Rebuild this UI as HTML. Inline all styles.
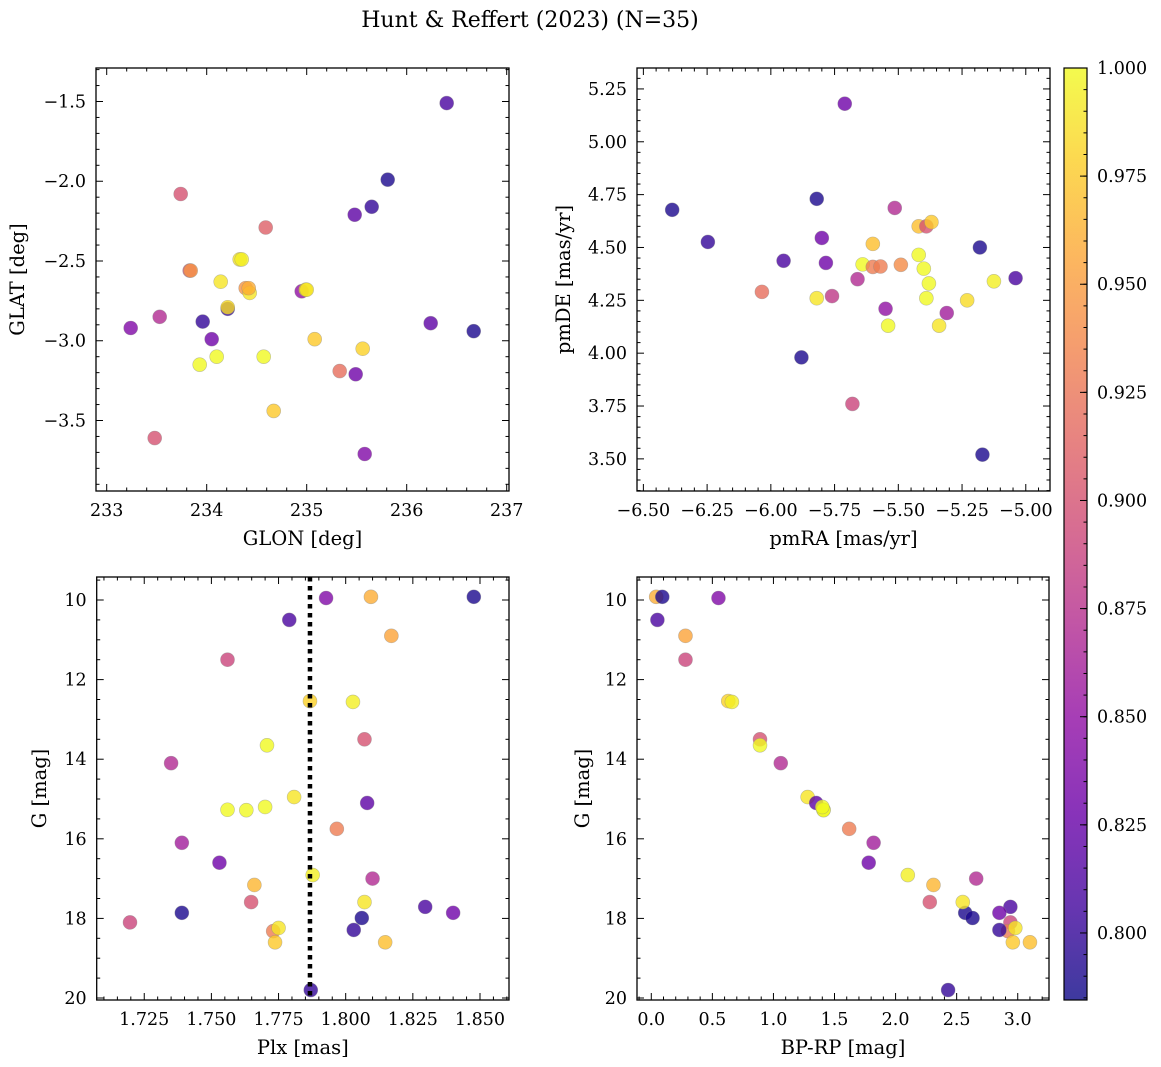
<!DOCTYPE html>
<html><head><meta charset="utf-8"><style>
html,body{margin:0;padding:0;background:#fff;}
svg{display:block;font-family:"DejaVu Serif","Liberation Serif",serif;}
</style></head><body>
<svg id="fig" width="1161" height="1067" viewBox="0 0 1161 1067">
<text x="530" y="27" font-size="22" text-anchor="middle">Hunt &amp; Reffert (2023) (N=35)</text>
</svg>
<script>
// Panel 1: GLON vs GLAT
const p1GLON=[236.40,235.81,235.65,235.48,233.74,234.59,233.83,234.33,234.14,234.39,234.43,234.21,234.21,234.95,234.99,233.53,233.96,233.24,234.05,235.08,236.24,236.67,234.10,233.93,234.57,235.56,235.33,235.49,234.67,233.48,235.58,233.84,234.35,235.00,234.42];
const p1GLAT=[-1.51,-1.99,-2.16,-2.21,-2.08,-2.29,-2.56,-2.49,-2.63,-2.67,-2.70,-2.80,-2.79,-2.69,-2.68,-2.85,-2.88,-2.92,-2.99,-2.99,-2.89,-2.94,-3.10,-3.15,-3.10,-3.05,-3.19,-3.21,-3.44,-3.61,-3.71,-2.56,-2.49,-2.68,-2.67];
const p1C=[0.81,0.79,0.80,0.82,0.90,0.91,0.90,0.99,0.99,0.945,0.99,0.80,0.985,0.85,0.99,0.87,0.80,0.84,0.83,0.975,0.82,0.79,1.0,1.0,1.0,0.98,0.92,0.83,0.975,0.90,0.84,0.945,0.995,0.99,0.96];
// Panel 2: pmRA vs pmDE
const p2RA=[-5.71,-6.387,-6.247,-5.82,-5.80,-5.514,-5.95,-5.784,-6.035,-5.82,-5.76,-5.66,-5.64,-5.60,-5.60,-5.57,-5.49,-5.55,-5.54,-5.42,-5.42,-5.40,-5.38,-5.39,-5.39,-5.37,-5.34,-5.31,-5.23,-5.18,-5.125,-5.04,-5.88,-5.68,-5.17];
const p2DE=[5.18,4.678,4.526,4.73,4.545,4.687,4.437,4.427,4.29,4.26,4.27,4.35,4.42,4.517,4.408,4.41,4.418,4.21,4.13,4.60,4.465,4.40,4.33,4.26,4.60,4.62,4.13,4.19,4.25,4.50,4.34,4.355,3.98,3.76,3.52];
const p2C=[0.83,0.79,0.80,0.79,0.83,0.87,0.81,0.83,0.92,0.99,0.88,0.87,1.0,0.97,0.93,0.93,0.94,0.85,1.0,0.97,1.0,1.0,1.0,1.0,0.90,0.975,0.99,0.86,0.985,0.79,0.995,0.81,0.79,0.89,0.79];
// Panel 3 & 4: Plx, BP-RP, G
const plx=[1.7927,1.8094,1.8477,1.779,1.817,1.756,1.7867,1.8027,1.807,1.7707,1.735,1.7808,1.808,1.756,1.763,1.770,1.7967,1.739,1.753,1.766,1.7877,1.810,1.7197,1.739,1.7648,1.807,1.8296,1.840,1.806,1.773,1.775,1.803,1.7737,1.8147,1.787];
const gmag=[9.95,9.92,9.92,10.5,10.9,11.5,12.54,12.56,13.5,13.65,14.1,14.95,15.1,15.27,15.28,15.2,15.75,16.1,16.6,17.16,16.91,17.0,18.1,17.86,17.59,17.59,17.71,17.86,17.99,18.32,18.24,18.29,18.6,18.6,19.8];
const bprp=[0.55,0.04,0.09,0.05,0.28,0.28,0.63,0.66,0.89,0.89,1.06,1.28,1.35,1.41,1.41,1.40,1.62,1.82,1.78,2.31,2.10,2.66,2.94,2.57,2.28,2.55,2.94,2.85,2.63,2.92,2.98,2.85,2.96,3.10,2.43];
const probC=[0.84,0.96,0.79,0.81,0.955,0.89,0.98,0.995,0.90,1.0,0.87,0.99,0.82,1.0,1.0,1.0,0.93,0.86,0.83,0.965,0.995,0.87,0.89,0.79,0.90,0.99,0.81,0.83,0.79,0.93,0.99,0.80,0.975,0.97,0.80];
const plxMedian=1.7867;
const cbTicks=[0.800,0.825,0.850,0.875,0.900,0.925,0.950,0.975,1.000];

const NS='http://www.w3.org/2000/svg';
const svg=document.getElementById('fig');
function mk(tag,attrs,parent){const e=document.createElementNS(NS,tag);for(const k in attrs)e.setAttribute(k,attrs[k]);(parent||svg).appendChild(e);return e;}
const stops=['#0d0887','#41049d','#6a00a8','#8f0da4','#b12a90','#cc4778','#e16462','#f2844b','#fca636','#fcce25','#f0f921'];
function hx(h){return [parseInt(h.substr(1,2),16),parseInt(h.substr(3,2),16),parseInt(h.substr(5,2),16)];}
const VMIN=0.7845,VMAX=1.0;
function plasma(v){let t=(v-VMIN)/(VMAX-VMIN);t=Math.max(0,Math.min(1,t));const s=t*10;const i=Math.min(9,Math.floor(s));const f=s-i;const a=hx(stops[i]),b=hx(stops[i+1]);return 'rgb('+a.map((c,k)=>Math.round(c+(b[k]-c)*f)).join(',')+')';}
function fmt(v,d){const s=Math.abs(v).toFixed(d);return (v<-1e-9?'\u2212':'')+s;}

function panel(cfg){
  const {L,R,T,B,x0,x1,y0,y1,name}=cfg;
  const X=v=>L+(v-x0)/(x1-x0)*(R-L);
  const Y=v=>cfg.invY? T+(v-y0)/(y1-y0)*(B-T) : B-(v-y0)/(y1-y0)*(B-T);
  const g=mk('g',{});
  
  
  const pts=mk('g',{},g);
  
  
  for(let i=0;i<cfg.xs.length;i++){
    const c=mk('circle',{cx:X(cfg.xs[i]),cy:Y(cfg.ys[i]),r:7,fill:plasma(cfg.cs[i]),'fill-opacity':0.8,stroke:'#888','stroke-opacity':0.5,'stroke-width':0.6},pts);
    
    
  }
  if(cfg.extra)cfg.extra(g,X,Y);
  const ax=mk('g',{stroke:'#000','stroke-width':1},g);
  
  
  mk('rect',{x:L,y:T,width:R-L,height:B-T,fill:'none','stroke-width':1.3},ax);
  const xs=Math.ceil((x0)/cfg.xmin-1e-9);
  for(let k=xs;k*cfg.xmin<=x1+1e-9;k++){
    const v=k*cfg.xmin;const px=X(v);
    const major=Math.abs(v/cfg.xmaj-Math.round(v/cfg.xmaj))<1e-6;
    const len=major?7:3.5;
    mk('line',{x1:px,x2:px,y1:B,y2:B-len},ax);mk('line',{x1:px,x2:px,y1:T,y2:T+len},ax);
    if(major){const t=mk('text',{x:px,y:B+25,'font-size':17.5,'text-anchor':'middle',stroke:'none',fill:'#000'},g);t.textContent=fmt(v,cfg.xd);
      }
  }
  const ys=Math.ceil(Math.min(y0,y1)/cfg.ymin-1e-9);
  for(let k=ys;k*cfg.ymin<=Math.max(y0,y1)+1e-9;k++){
    const v=k*cfg.ymin;const py=Y(v);
    const major=Math.abs(v/cfg.ymaj-Math.round(v/cfg.ymaj))<1e-6;
    const len=major?7:3.5;
    mk('line',{y1:py,y2:py,x1:L,x2:L+len},ax);mk('line',{y1:py,y2:py,x1:R,x2:R-len},ax);
    if(major){const t=mk('text',{x:L-10,y:py+6,'font-size':17.5,'text-anchor':'end',stroke:'none',fill:'#000'},g);t.textContent=fmt(v,cfg.yd);
      }
  }
  const xl=mk('text',{x:(L+R)/2,y:B+54,'font-size':19.5,'text-anchor':'middle'},g);xl.textContent=cfg.xlab;
  
  const yl=mk('text',{x:0,y:0,'font-size':19.5,'text-anchor':'middle',transform:'translate('+(cfg.ylx)+','+((T+B)/2)+') rotate(-90)'},g);yl.textContent=cfg.ylab;
  
}

panel({name:'glon-glat',L:96,R:509,T:68,B:491,x0:232.893,x1:237.023,y0:-3.942,y1:-1.29,xmaj:1,xmin:0.2,ymaj:0.5,ymin:0.1,xd:0,yd:1,xs:p1GLON,ys:p1GLAT,cs:p1C,xlab:'GLON [deg]',ylab:'GLAT [deg]',ylx:24});
panel({name:'proper-motion',L:637,R:1050,T:68,B:491,x0:-6.525,x1:-4.905,y0:3.348,y1:5.349,xmaj:0.25,xmin:0.05,ymaj:0.25,ymin:0.05,xd:2,yd:2,xs:p2RA,ys:p2DE,cs:p2C,xlab:'pmRA [mas/yr]',ylab:'pmDE [mas/yr]',ylx:570});
panel({name:'parallax-g',L:96.7,R:509,T:577,B:1000,x0:1.7073,x1:1.8608,y0:9.422,y1:20.05,invY:true,xmaj:0.025,xmin:0.005,ymaj:2,ymin:0.5,xd:3,yd:0,xs:plx,ys:gmag,cs:probC,xlab:'Plx [mas]',ylab:'G [mag]',ylx:46,
  extra:(g,X,Y)=>{const l=mk('line',{x1:X(plxMedian),x2:X(plxMedian),y1:577,y2:1000,stroke:'#000','stroke-width':4.5,'stroke-dasharray':'4.5,4.5'},g);
    }});
panel({name:'cmd',L:637,R:1049,T:577,B:1000,x0:-0.117,x1:3.256,y0:9.422,y1:20.05,invY:true,xmaj:0.5,xmin:0.1,ymaj:2,ymin:0.5,xd:1,yd:0,xs:bprp,ys:gmag,cs:probC,xlab:'BP-RP [mag]',ylab:'G [mag]',ylx:589});

(function(){
  const L=1064,R=1087,T=68,B=1000;
  const g=mk('g',{});
  
  
  const defs=mk('defs',{},g);
  const lg=mk('linearGradient',{id:'cbg',x1:0,y1:1,x2:0,y2:0},defs);
  for(let i=0;i<=20;i++){const v=VMIN+(VMAX-VMIN)*i/20;mk('stop',{offset:i/20,'stop-color':plasma(v),'stop-opacity':0.8},lg);}
  mk('rect',{x:L,y:T,width:R-L,height:B-T,fill:'url(#cbg)',stroke:'#000','stroke-width':1.2},g);
  const Y=v=>B-(v-VMIN)/(VMAX-VMIN)*(B-T);
  for(let k=Math.ceil(VMIN/0.005);k*0.005<=VMAX+1e-9;k++){const py=Y(k*0.005);
    mk('line',{x1:R,x2:R-3.5,y1:py,y2:py,stroke:'#000'},g);}
  cbTicks.forEach(v=>{const py=Y(v);mk('line',{x1:R,x2:R-7,y1:py,y2:py,stroke:'#000'},g);
    const t=mk('text',{x:R+10,y:py+6,'font-size':17.5},g);t.textContent=v.toFixed(3);
    });
})();
</script>
</body></html>
